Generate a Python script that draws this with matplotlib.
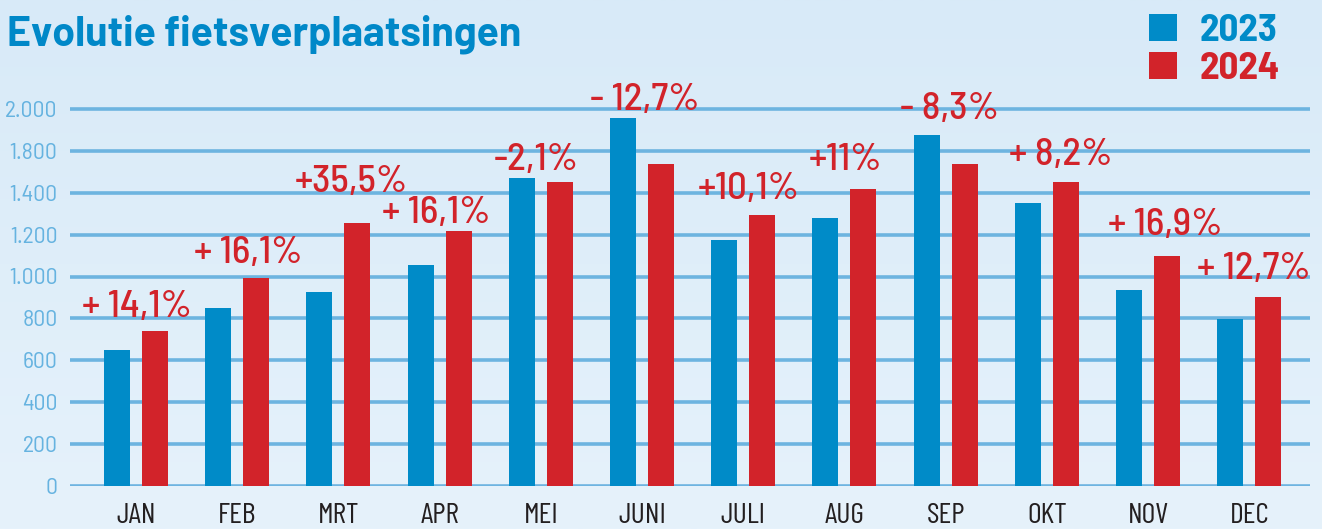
import numpy as np
import matplotlib
matplotlib.use("Agg")
import matplotlib.pyplot as plt
from matplotlib.colors import LinearSegmentedColormap

months = ["JAN", "FEB", "MRT", "APR", "MEI", "JUNI", "JULI", "AUG", "SEP", "OKT", "NOV", "DEC"]
trips_2023 = [650, 850, 925, 1055, 1470, 1755, 1175, 1280, 1675, 1350, 935, 795]
trips_2024 = [740, 995, 1255, 1215, 1450, 1535, 1295, 1420, 1535, 1450, 1100, 900]
changes = ["+ 14,1%", "+ 16,1%", "+35,5%", "+ 16,1%", "-2,1%", "- 12,7%",
           "+10,1%", "+11%", "- 8,3%", "+ 8,2%", "+ 16,9%", "+ 12,7%"]
ytick_vals = [0, 200, 400, 600, 800, 1000, 1200, 1400, 1600, 1800]
ytick_labels = ["0", "200", "400", "600", "800", "1.000", "1.200", "1.400", "1.800", "2.000"]

# label placement tweaks (pixels)
lab_dx = [1, 11, 13, -3, -5, 3, 6, 1, 4, 14, 17, 5]
lab_dy = [14, 15, 31, 8, 8, 8, 16, 19, 16, 17, 21, 18]

BLUE = "#008bc8"
RED = "#d2232a"
GRID = "#6db4e0"
SEMI = ["Barlow Semi Condensed", "DejaVu Sans"]
COND = ["Barlow Condensed", "DejaVu Sans"]
WIDE = ["Barlow", "Barlow Semi Condensed", "DejaVu Sans"]

plt.rcParams["font.family"] = SEMI

fig = plt.figure(figsize=(13.22, 5.29), dpi=100)

# background gradient
bg = fig.add_axes([0, 0, 1, 1], zorder=-10)
grad = np.linspace(0, 1, 256).reshape(-1, 1)
cmap = LinearSegmentedColormap.from_list("bg", ["#d8eaf8", "#e6f2fb"])
bg.imshow(grad, aspect="auto", cmap=cmap, extent=[0, 1, 0, 1], origin="upper")
bg.axis("off")

ax = fig.add_axes([70 / 1322, 43 / 529, 1240 / 1322, 419 / 529])
ax.set_facecolor("none")

x = np.arange(len(months))
w = 0.257
off = 0.188
b1 = ax.bar(x - off, trips_2023, w, color=BLUE, label="2023", zorder=3)
b2 = ax.bar(x + off, trips_2024, w, color=RED, label="2024", zorder=3)

ax.set_xlim(-0.652, 11.6)
ax.set_ylim(0, 2000)
ax.set_yticks(ytick_vals)
ax.set_yticklabels(ytick_labels)
ax.set_xticks(x)
ax.set_xticklabels(months, family=COND, fontweight="normal")
ax.yaxis.grid(True, color=GRID, linewidth=2.6, zorder=1)
ax.set_axisbelow(True)
for s in ax.spines.values():
    s.set_visible(False)
ax.tick_params(axis="y", length=0, pad=9, labelsize=17, labelcolor="#66b3e0")
ax.tick_params(axis="x", length=0, pad=12, labelsize=21.5, labelcolor="#231f20")

for i, lab in enumerate(changes):
    top = max(trips_2023[i], trips_2024[i])
    ax.annotate(lab, xy=(i, top), xytext=(lab_dx[i], lab_dy[i]),
                textcoords="offset pixels", ha="center", va="baseline",
                fontsize=28, fontweight=500, color=RED, zorder=5)

fig.text(7 / 1322, 1 - 45 / 529, "Evolutie fietsverplaatsingen", fontsize=29.5,
         fontweight="bold", family=WIDE, color="#0088c8", va="baseline", ha="left")

leg = fig.legend(handles=[b1, b2], loc="upper right", bbox_to_anchor=(1280 / 1322, 1 - 14 / 529),
                 frameon=False, prop={"size": 28, "weight": "bold", "family": SEMI},
                 handlelength=0.7, handleheight=0.7, handletextpad=0.6,
                 labelspacing=0.1, borderpad=0, borderaxespad=0)
for t, c in zip(leg.get_texts(), [BLUE, RED]):
    t.set_color(c)

fig.savefig("out.png", dpi=100)
